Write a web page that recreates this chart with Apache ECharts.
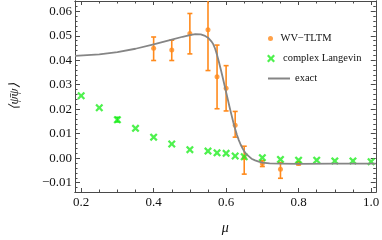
<!DOCTYPE html>
<html>
<head>
<meta charset="utf-8">
<script src="https://cdn.jsdelivr.net/npm/echarts@6/dist/echarts.min.js"></script>
<style>html,body{margin:0;padding:0;background:#fff;}#c{width:382px;height:240px;}</style>
</head>
<body>
<div id="c"></div>
<script>
// ---- data ----
const wvMu   = [0.4, 0.45, 0.5, 0.55, 0.575, 0.6, 0.625, 0.65, 0.7, 0.75, 0.8];
const wvVal  = [0.0449, 0.0442, 0.0509, 0.0525, 0.0333, 0.0286, 0.0135, 0.0002, -0.0022, -0.0045, -0.0022];
const wvLo   = [0.0399, 0.0399, 0.0426, 0.0358, 0.0202, 0.0193, 0.0086, -0.0065, -0.0034, -0.0082, -0.0027];
const wvHi   = [0.0495, 0.0482, 0.0591, 0.0700, 0.0462, 0.0378, 0.0191, 0.0049, -0.0010, -0.0018, -0.0017];

const clMu   = [0.2, 0.25, 0.3, 0.35, 0.4, 0.45, 0.5, 0.55, 0.575, 0.6, 0.625, 0.65, 0.7, 0.75, 0.8, 0.85, 0.9, 0.95, 1.0];
const clVal  = [0.0255, 0.0206, 0.0157, 0.0122, 0.0086, 0.0058, 0.0035, 0.0029, 0.0022, 0.0020, 0.0009, 0.0006, 0.0002, -0.0005, -0.0008, -0.0008, -0.0011, -0.0011, -0.0014];
const clErrMu = [0.3];
const clErrLo = [0.0148];
const clErrHi = [0.0167];

const exMu  = [0.183, 0.25, 0.3, 0.35, 0.4, 0.45, 0.48, 0.5, 0.515, 0.53, 0.54, 0.55, 0.56, 0.565, 0.57, 0.575, 0.58, 0.585, 0.59, 0.6, 0.61, 0.615, 0.62, 0.625, 0.63, 0.635, 0.64, 0.645, 0.65, 0.655, 0.66, 0.67, 0.68, 0.69, 0.7, 0.72, 0.75, 0.8, 0.9, 1.013];
const exVal = [0.0418, 0.0424, 0.0433, 0.0447, 0.0465, 0.0484, 0.0496, 0.0503, 0.0507, 0.0506, 0.0501, 0.0492, 0.0476, 0.0464, 0.0446, 0.0422, 0.0394, 0.0364, 0.0334, 0.0270, 0.0206, 0.0176, 0.0146, 0.0119, 0.0095, 0.0074, 0.0056, 0.0041, 0.0028, 0.0018, 0.0010, -0.0002, -0.0009, -0.0014, -0.0018, -0.0021, -0.0022, -0.0023, -0.0022, -0.0022];

const xMajorTicks = [0.2, 0.4, 0.6, 0.8, 1.0];
const xTickLabels = ['0.2', '0.4', '0.6', '0.8', '1.0'];
const yMajorTicks = [-0.01, 0.0, 0.01, 0.02, 0.03, 0.04, 0.05, 0.06];
const yTickLabels = ['\u22120.01', '0.00', '0.01', '0.02', '0.03', '0.04', '0.05', '0.06'];

const xMinorTicks = [];
for (let i = 4; i <= 20; i++) if (i % 4 !== 0) xMinorTicks.push(+(i * 0.05).toFixed(3));
const yMinorTicks = [];
for (let i = -6; i <= 32; i++) if (i % 5 !== 0) yMinorTicks.push(+(i * 0.002).toFixed(4));

// ---- styling ----
const ORANGE = '#ff8a1c';
const GREEN = '#22ee22';
const GRAY = '#858585';
const FRAME = '#4a4a4a';
const SERIF = 'Liberation Serif';
const XMIN = 0.183, XMAX = 1.013, YMIN = -0.0138, YMAX = 0.0642;
const crossPath = 'path://M0,2 L2,0 L5,3 L8,0 L10,2 L7,5 L10,8 L8,10 L5,7 L2,10 L0,8 L3,5 Z';

function xAxisDef(pos, ticks, len, labels, extra) {
  return Object.assign({
    type: 'value', min: XMIN, max: XMAX, position: pos,
    axisLine: { show: true, onZero: false, lineStyle: { color: FRAME, width: 1 } },
    axisTick: { show: true, inside: true, length: len, customValues: ticks, lineStyle: { color: FRAME, width: 1 } },
    axisLabel: labels ? {
      show: true, customValues: xMajorTicks,
      formatter: v => xTickLabels[xMajorTicks.findIndex(t => Math.abs(t - v) < 1e-9)],
      fontFamily: SERIF, fontSize: 13, color: '#111', margin: 4
    } : { show: false },
    splitLine: { show: false }
  }, extra || {});
}
function yAxisDef(pos, ticks, len, labels, extra) {
  return Object.assign({
    type: 'value', min: YMIN, max: YMAX, position: pos,
    axisLine: { show: true, onZero: false, lineStyle: { color: FRAME, width: 1 } },
    axisTick: { show: true, inside: true, length: len, customValues: ticks, lineStyle: { color: FRAME, width: 1 } },
    axisLabel: labels ? {
      show: true, customValues: yMajorTicks,
      formatter: v => yTickLabels[yMajorTicks.findIndex(t => Math.abs(t - v) < 1e-9)],
      fontFamily: SERIF, fontSize: 13, color: '#111', margin: 3
    } : { show: false },
    splitLine: { show: false }
  }, extra || {});
}

function errorBars(mu, lo, hi, color) {
  return {
    type: 'custom', xAxisIndex: 0, yAxisIndex: 0, clip: true, silent: true,
    data: mu.map((m, i) => [m, lo[i], hi[i]]),
    renderItem: function (params, api) {
      const pLo = api.coord([api.value(0), api.value(1)]);
      const pHi = api.coord([api.value(0), api.value(2)]);
      const w = 2.5;
      const st = { stroke: color, lineWidth: 1.6 };
      return {
        type: 'group', children: [
          { type: 'line', shape: { x1: pLo[0], y1: pLo[1], x2: pHi[0], y2: pHi[1] }, style: st },
          { type: 'line', shape: { x1: pLo[0] - w, y1: pLo[1], x2: pLo[0] + w, y2: pLo[1] }, style: st },
          { type: 'line', shape: { x1: pHi[0] - w, y1: pHi[1], x2: pHi[0] + w, y2: pHi[1] }, style: st }
        ]
      };
    }
  };
}

const chart = echarts.init(document.getElementById('c'), null, { renderer: 'canvas' });
chart.setOption({
  animation: false,
  backgroundColor: '#fff',
  grid: { left: 63, right: 4, top: 1, bottom: 45, containLabel: false },
  xAxis: [
    xAxisDef('bottom', xMajorTicks, 4, true, {
      name: '\u03bc', nameLocation: 'middle', nameGap: 29,
      nameTextStyle: { fontFamily: SERIF, fontStyle: 'italic', fontSize: 14, color: '#111' }
    }),
    xAxisDef('bottom', xMinorTicks, 2.5, false),
    xAxisDef('top', xMajorTicks, 4, false),
    xAxisDef('top', xMinorTicks, 2.5, false)
  ],
  yAxis: [
    yAxisDef('left', yMajorTicks, 5, true, {
      name: '\u27e8\u03c8\u0304\u03c8\u27e9', nameLocation: 'middle', nameGap: 54, nameRotate: 90,
      nameTextStyle: { fontFamily: SERIF, fontStyle: 'italic', fontSize: 13, color: '#111' }
    }),
    yAxisDef('left', yMinorTicks, 2.5, false),
    yAxisDef('right', yMajorTicks, 5, false),
    yAxisDef('right', yMinorTicks, 2.5, false)
  ],
  legend: [
    { data: [{ name: 'WV\u2212TLTM', icon: 'circle' }], left: 268, top: 33, padding: 0, itemWidth: 10, itemHeight: 5, itemGap: 0,
      textStyle: { fontFamily: SERIF, fontSize: 10.5, color: '#111' } },
    { data: [{ name: 'complex Langevin', icon: crossPath }], left: 267, top: 53, padding: 0, itemWidth: 10, itemHeight: 8, itemGap: 0,
      textStyle: { fontFamily: SERIF, fontSize: 10.5, color: '#111', padding: [0, 0, 0, 2] } },
    { data: [{ name: 'exact', icon: 'rect' }], left: 268, top: 73, padding: 0, itemWidth: 22, itemHeight: 2, itemGap: 0,
      textStyle: { fontFamily: SERIF, fontSize: 10.5, color: '#111' } }
  ],
  series: [
    errorBars(wvMu, wvLo, wvHi, ORANGE),
    errorBars(clErrMu, clErrLo, clErrHi, GREEN),
    {
      name: 'WV\u2212TLTM', type: 'scatter', xAxisIndex: 0, yAxisIndex: 0,
      symbol: 'circle', symbolSize: 5, itemStyle: { color: ORANGE },
      data: wvMu.map((m, i) => [m, wvVal[i]])
    },
    {
      name: 'complex Langevin', type: 'scatter', xAxisIndex: 0, yAxisIndex: 0,
      symbol: crossPath, symbolSize: 8, itemStyle: { color: GREEN },
      data: clMu.map((m, i) => [m, clVal[i]])
    },
    {
      name: 'exact', type: 'line', xAxisIndex: 0, yAxisIndex: 0,
      showSymbol: false, symbol: 'none', smooth: false,
      lineStyle: { color: GRAY, width: 1.8, join: 'round' }, itemStyle: { color: GRAY },
      data: exMu.map((m, i) => [m, exVal[i]])
    }
  ]
});
</script>
</body>
</html>
